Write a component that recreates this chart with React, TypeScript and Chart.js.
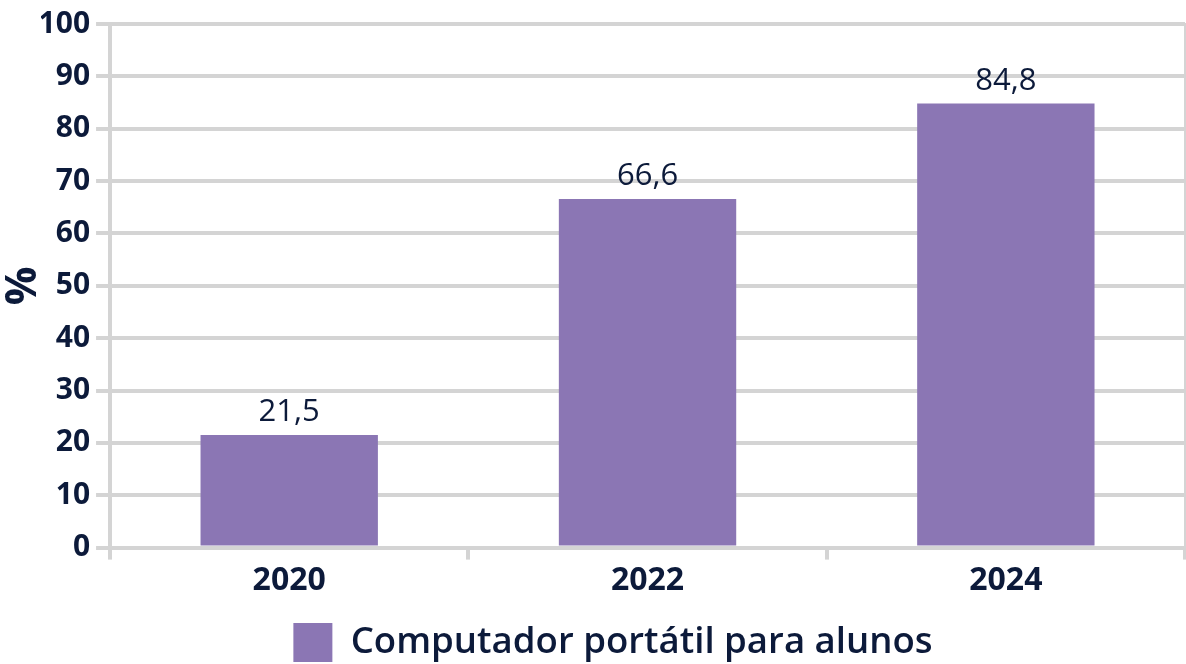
import React, { useEffect, useRef } from "react";
import { Chart, registerables } from "chart.js";

Chart.register(...registerables);

const categories = ["2020", "2022", "2024"];
const values = [21.5, 66.6, 84.8];
const seriesLabel = "Computador portátil para alunos";
const yTicks = [0, 10, 20, 30, 40, 50, 60, 70, 80, 90, 100];

const TEXT = "#0c1a3a";
const GRID = "#d4d4d4";
const BAR = "#8b76b4";
const FONT = "'Open Sans', 'Noto Sans', sans-serif";

const valueLabels = {
  id: "valueLabels",
  afterDatasetsDraw(chart: any) {
    const ctx = chart.ctx;
    const meta = chart.getDatasetMeta(0);
    ctx.save();
    ctx.font = `400 31px ${FONT}`;
    ctx.fillStyle = TEXT;
    ctx.textAlign = "center";
    ctx.textBaseline = "bottom";
    meta.data.forEach((bar: any, i: number) => {
      const v = chart.data.datasets[0].data[i] as number;
      ctx.fillText(v.toFixed(1).replace(".", ","), bar.x, bar.y - 7);
    });
    ctx.restore();
  },
};

export default function App() {
  const ref = useRef<HTMLCanvasElement | null>(null);
  useEffect(() => {
    document.body.style.margin = "0";
    const chart = new Chart(ref.current!, {
      type: "bar",
      data: {
        labels: categories,
        datasets: [
          {
            label: seriesLabel,
            data: values,
            backgroundColor: BAR,
            borderWidth: 0,
            barPercentage: 0.495,
            categoryPercentage: 1,
            yAxisID: "y",
          },
        ],
      },
      plugins: [valueLabels],
      options: {
        animation: false,
        responsive: false,
        maintainAspectRatio: false,
        layout: { padding: { top: 8, right: 1, left: 41, bottom: -8 } },
        plugins: {
          legend: {
            position: "bottom",
            labels: {
              color: TEXT,
              font: { family: FONT, size: 36.6, weight: "600" as any },
              boxWidth: 39,
              boxHeight: 39,
              padding: 21,
            },
          },
          tooltip: { enabled: false },
        },
        scales: {
          x: {
            grid: {
              drawOnChartArea: false,
              color: GRID,
              lineWidth: 4,
              tickLength: 12,
            },
            border: { display: true, color: GRID, width: 4 },
            ticks: {
              color: TEXT,
              font: { family: FONT, size: 32, weight: "bold" },
              padding: 2,
            },
          },
          y: {
            min: 0,
            max: 100,
            afterBuildTicks: (axis: any) => {
              axis.ticks = yTicks.map((v) => ({ value: v }));
            },
            grid: { color: GRID, lineWidth: 4, tickLength: 14 },
            border: { display: true, color: GRID, width: 4 },
            ticks: {
              color: TEXT,
              font: { family: FONT, size: 30, weight: "bold" },
              padding: 6,
            },
            title: {
              display: true,
              text: "%",
              color: TEXT,
              font: { family: FONT, size: 43, weight: "bold" },
              padding: { top: -43, bottom: -17 },
            },
          },
          y2: {
            position: "right",
            min: 0,
            max: 100,
            grid: { display: false, drawTicks: false },
            ticks: { display: false },
            border: { display: true, color: GRID, width: 2 },
          },
        },
      } as any,
    });
    return () => chart.destroy();
  }, []);
  return (
    <div style={{ position: "absolute", left: 0, top: 0, width: 1186, height: 664 }}>
      <canvas ref={ref} width={1186} height={664} style={{ display: "block" }} />
    </div>
  );
}
